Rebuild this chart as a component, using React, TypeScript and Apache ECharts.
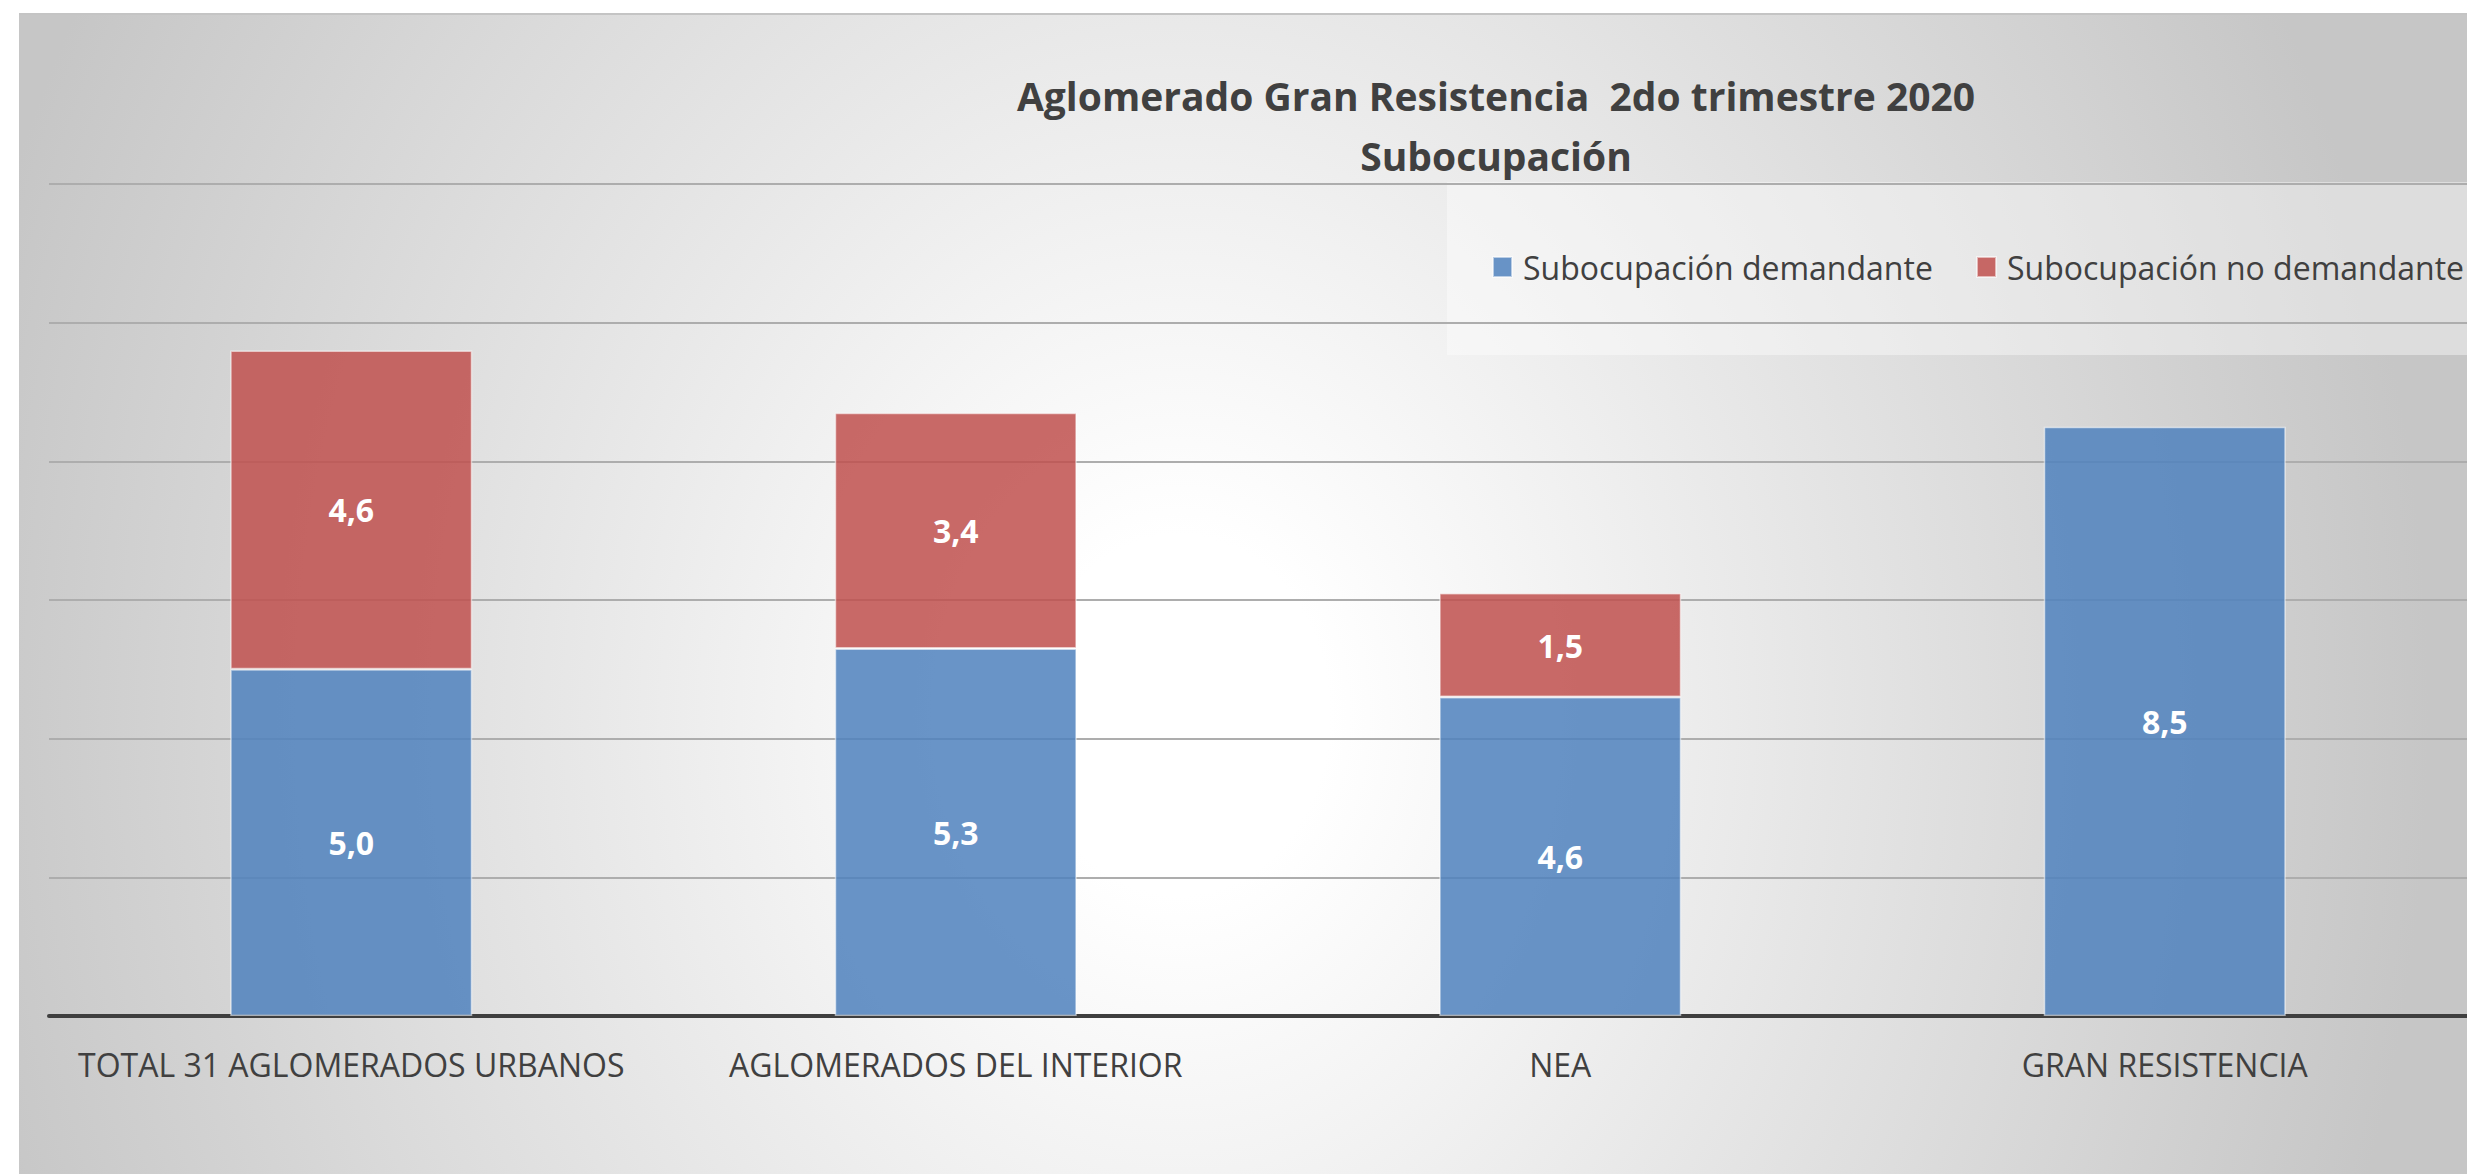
import React, { useEffect, useRef } from "react";
import * as echarts from "echarts";

const categories = [
  "TOTAL 31 AGLOMERADOS URBANOS",
  "AGLOMERADOS DEL INTERIOR",
  "NEA",
  "GRAN RESISTENCIA",
];
const demandante = [5.0, 5.3, 4.6, 8.5];
const noDemandante: (number | null)[] = [4.6, 3.4, 1.5, null];
const seriesNames = ["Subocupación demandante", "Subocupación no demandante"];
const titleLines = ["Aglomerado Gran Resistencia  2do trimestre 2020", "Subocupación"];

const FONT = "'Open Sans', 'Noto Sans', sans-serif";
const fmt = (p: any) =>
  p.value == null ? "" : Number(p.value).toFixed(1).replace(".", ",");

const legendBase = {
  top: 247,
  padding: 0,
  itemWidth: 19,
  itemHeight: 20,
  icon: "rect",
  textStyle: {
    fontFamily: FONT,
    fontSize: 32,
    color: "#404040",
    lineHeight: 40,
    padding: [0, 0, 0, 6],
  },
};

export default function App() {
  const ref = useRef<HTMLDivElement>(null);
  useEffect(() => {
    if (!ref.current) return;
    const chart = echarts.init(ref.current, null, { renderer: "svg" });
    chart.setOption({
      animation: false,
      backgroundColor: "transparent",
      textStyle: { fontFamily: FONT },
      title: {
        text: titleLines.join("\n"),
        left: 1491,
        top: 60,
        textAlign: "center",
        textStyle: {
          fontFamily: FONT,
          fontSize: 39,
          fontWeight: "bold",
          color: "#404040",
          lineHeight: 60,
        },
      },
      graphic: [
        {
          type: "rect",
          z: -10,
          shape: { x: 1447, y: 182, width: 1020, height: 173 },
          style: { fill: "rgba(255,255,255,0.4)" },
          silent: true,
        },
      ],
      legend: [
        { ...legendBase, data: [seriesNames[0]], left: 1492 },
        { ...legendBase, data: [seriesNames[1]], left: 1976 },
      ],
      grid: { left: 49, right: 0, top: 184, bottom: 158, containLabel: false },
      xAxis: {
        type: "category",
        data: categories,
        axisLine: { lineStyle: { color: "#3f3f3f", width: 4 } },
        axisTick: { show: false },
        axisLabel: {
          fontFamily: FONT,
          fontSize: 32,
          color: "#404040",
          lineHeight: 40,
          margin: 28,
          interval: 0,
        },
      },
      yAxis: {
        type: "value",
        min: 0,
        max: 12,
        interval: 2,
        axisLabel: { show: false },
        axisLine: { show: false },
        axisTick: { show: false },
        splitLine: { lineStyle: { color: "#adadad", width: 2 } },
      },
      series: [
        {
          name: seriesNames[0],
          type: "bar",
          stack: "total",
          barWidth: 242,
          data: demandante,
          itemStyle: {
            color: "rgba(79,129,189,0.85)",
            borderColor: "rgba(255,255,255,0.55)",
            borderWidth: 1.5,
          },
          label: {
            show: true,
            position: "inside",
            formatter: fmt,
            fontFamily: FONT,
            fontSize: 32,
            fontWeight: "bold",
            color: "#ffffff",
          },
        },
        {
          name: seriesNames[1],
          type: "bar",
          stack: "total",
          barWidth: 242,
          data: noDemandante,
          itemStyle: {
            color: "rgba(192,80,77,0.85)",
            borderColor: "rgba(255,255,255,0.55)",
            borderWidth: 1.5,
          },
          label: {
            show: true,
            position: "inside",
            formatter: fmt,
            fontFamily: FONT,
            fontSize: 32,
            fontWeight: "bold",
            color: "#ffffff",
          },
        },
      ],
    });
    return () => chart.dispose();
  }, []);

  return (
    <div
      style={{
        position: "absolute",
        left: 0,
        top: 0,
        width: 2467,
        height: 1174,
        background: "#ffffff",
        overflow: "hidden",
      }}
    >
      <div
        style={{
          position: "absolute",
          left: 19,
          top: 13,
          right: 0,
          bottom: 0,
          borderTop: "2px solid #c4c4c4",
          background:
            "radial-gradient(ellipse 1250px 1500px at 1160px 700px, #ffffff 0%, #ffffff 12%, #c6c6c6 100%)",
        }}
      />
      <div
        ref={ref}
        style={{ position: "absolute", left: 0, top: 0, width: 2467, height: 1174 }}
      />
    </div>
  );
}
